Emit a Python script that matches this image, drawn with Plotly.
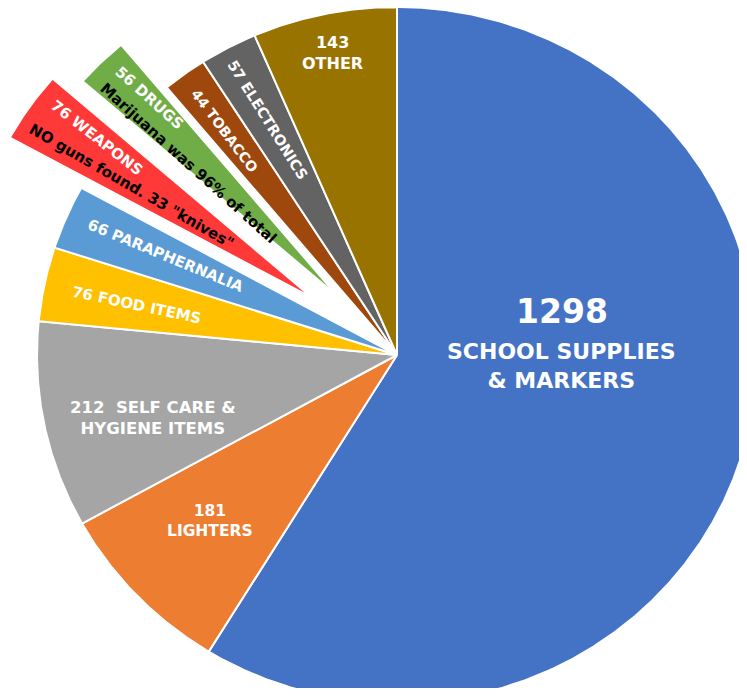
import numpy as np
import plotly.graph_objects as go

# ---------------- data ----------------
categories = ["SCHOOL SUPPLIES & MARKERS", "LIGHTERS", "SELF CARE & HYGIENE ITEMS",
              "FOOD ITEMS", "PARAPHERNALIA", "WEAPONS", "DRUGS", "TOBACCO",
              "ELECTRONICS", "OTHER"]
counts = [1298, 181, 212, 76, 66, 76, 56, 44, 57, 143]
notes = {"WEAPONS": 'NO guns found. 33 "knives"',
         "DRUGS": "Marijuana was 96% of total"}

# ---------------- style ----------------
colors = ["#4472C4", "#ED7D31", "#A5A5A5", "#FFC000", "#5B9BD5",
          "#FF3838", "#70AD47", "#9E480E", "#636363", "#997300"]
pull = {"WEAPONS": 0.285, "DRUGS": 0.236}      # explode distance (fraction of radius)
shrink = {"WEAPONS": 0.96, "DRUGS": 0.94}      # radius of exploded slices
W, H = 731, 680                                # page body keeps an 8px margin
CX, CY, RX, RY = 389, 347, 360, 348            # pie centre / radii in figure pixels
FONT = "DejaVu Sans"

# label layout: (category, text template, radius, angle offset, textangle, size, colour)
label_specs = [
    ("SCHOOL SUPPLIES & MARKERS", "{n}", 0.4747, -30.87, 0, 33, "white"),
    ("SCHOOL SUPPLIES & MARKERS", "SCHOOL SUPPLIES<br>& MARKERS", 0.4594, -11.83, 0, 22, "white"),
    ("LIGHTERS", "{n}<br>LIGHTERS", 0.7062, 1.07, 0, 15.5, "white"),
    ("SELF CARE & HYGIENE ITEMS", "{n}\u00a0 SELF CARE &<br>HYGIENE ITEMS", 0.7025, -3.12, 0, 16.5, "white"),
    ("FOOD ITEMS", "{n} FOOD ITEMS", 0.7391, -0.56, 12, 15, "white"),
    ("PARAPHERNALIA", "{n} PARAPHERNALIA", 0.7019, 0.56, 22.5, 15, "white"),
    ("WEAPONS", "{n} WEAPONS", 0.756, 2.6, 38, 15, "white"),
    ("WEAPONS", "{note}", 0.599, -2.37, 30, 15, "black"),
    ("DRUGS", "{n} DRUGS", 0.774, 1.87, 42, 15, "white"),
    ("DRUGS", "{note}", 0.565, -3.03, 42, 15, "black"),
    ("TOBACCO", "{n} TOBACCO", 0.8028, -0.35, 53, 14, "white"),
    ("ELECTRONICS", "{n} ELECTRONICS", 0.7651, -0.09, 58, 14.5, "white"),
    ("OTHER", "{n}<br>OTHER", 0.8858, 0.07, 0, 16, "white"),
]

# ---------------- geometry from the counts ----------------
total = float(sum(counts))
edges = np.concatenate([[0.0], np.cumsum(counts)]) * 360.0 / total
starts, ends = edges[:-1], edges[1:]
mids = (starts + ends) / 2.0


def apex_of(i):
    p = pull.get(categories[i], 0.0)
    m = np.radians(mids[i])
    return p * np.sin(m), p * np.cos(m)


fig = go.Figure()
for i, cat in enumerate(categories):
    ax, ay = apex_of(i)
    s = shrink.get(cat, 1.0)
    n = max(3, int((ends[i] - starts[i]) * 3) + 2)
    arc = np.radians(np.linspace(starts[i], ends[i], n))
    xs = np.concatenate([[ax], ax + s * np.sin(arc), [ax]])
    ys = np.concatenate([[ay], ay + s * np.cos(arc), [ay]])
    fig.add_trace(go.Scatter(
        x=xs, y=ys, mode="lines", fill="toself", fillcolor=colors[i],
        line=dict(color="white", width=2), name=cat,
        hoverinfo="text", text=f"{cat}: {counts[i]}", hoveron="fills"))

annotations = []
for cat, tmpl, r, dth, tang, size, col in label_specs:
    i = categories.index(cat)
    ax, ay = apex_of(i)
    a = np.radians(mids[i] + dth)
    txt = tmpl.format(n=counts[i], note=notes.get(cat, ""))
    annotations.append(dict(
        x=ax + r * np.sin(a), y=ay + r * np.cos(a), xref="x", yref="y",
        text=txt, showarrow=False, textangle=tang,
        align="left" if col == "black" else "center",
        xanchor="center", yanchor="middle",
        font=dict(family=FONT, size=size, color=col, weight="bold")))

fig.update_layout(
    width=W, height=H, margin=dict(l=0, r=0, t=0, b=0),
    paper_bgcolor="white", plot_bgcolor="white", showlegend=False,
    xaxis=dict(range=[-CX / RX, (W - CX) / RX], visible=False, fixedrange=True),
    yaxis=dict(range=[-(H - CY) / RY, CY / RY], visible=False, fixedrange=True),
    annotations=annotations,
)

fig.write_html("out.html")
